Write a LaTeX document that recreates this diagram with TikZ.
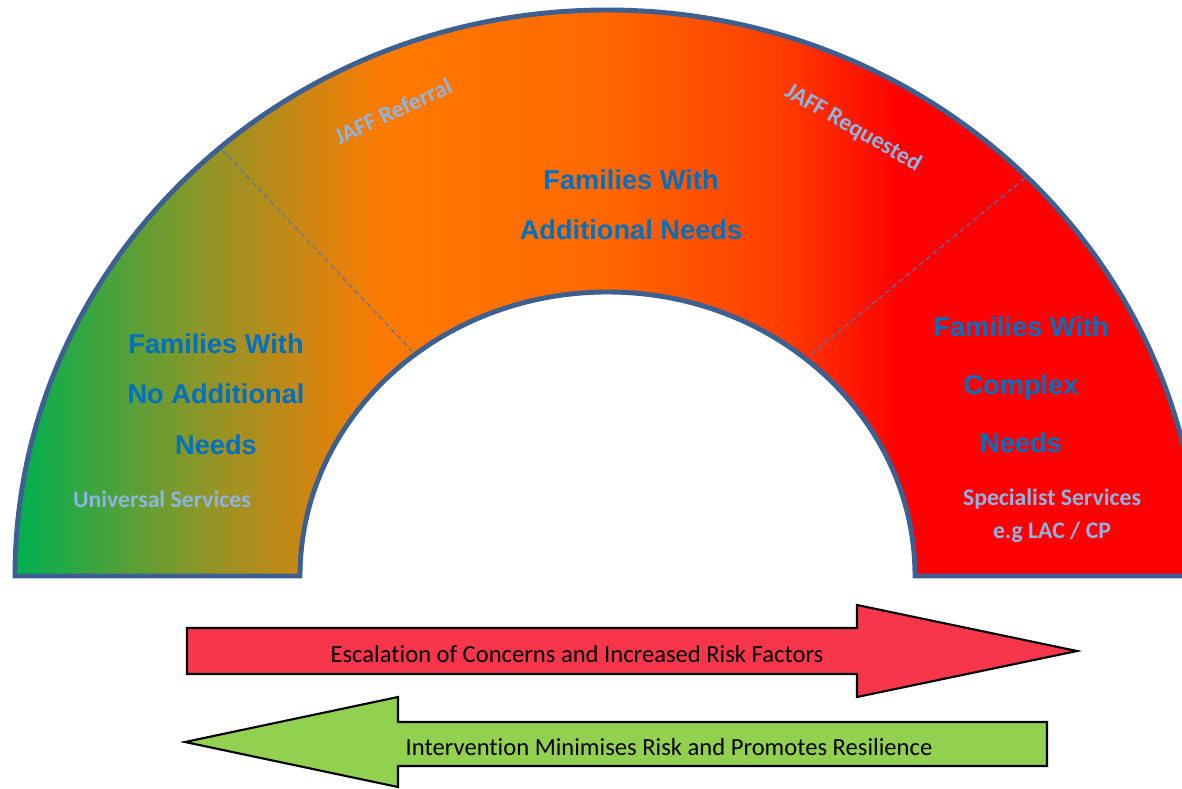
\documentclass[tikz,border=0pt]{standalone}
\usepackage{fontspec}
\setmainfont{Carlito}[Ligatures=NoCommon]
\newfontfamily\arialfont{Liberation Sans}
\definecolor{rimblue}{RGB}{60,96,145}
\definecolor{dashblue}{RGB}{70,120,190}
\definecolor{famblue}{RGB}{0,112,192}
\definecolor{paleblue}{RGB}{141,180,226}
\definecolor{riskred}{RGB}{247,54,76}
\definecolor{calmgreen}{RGB}{146,208,80}
\definecolor{gGreen}{RGB}{0,176,80}
\definecolor{gOlive}{RGB}{140,150,40}
\definecolor{gBrown}{RGB}{200,135,20}
\definecolor{gOrange}{RGB}{255,122,0}
\definecolor{gOrange2}{RGB}{255,104,0}
\definecolor{gRedOr}{RGB}{255,62,0}
\definecolor{gRed}{RGB}{255,0,0}
\pgfdeclarehorizontalshading{gauge}{100bp}{color(0bp)=(gGreen); color(25bp)=(gGreen);
  color(32.8bp)=(gOlive); color(37bp)=(gBrown); color(40.8bp)=(gOrange);
  color(49.7bp)=(gOrange2); color(57.3bp)=(gRedOr); color(62.4bp)=(gRed); color(100bp)=(gRed)}
\tikzset{
  rim/.style={draw=rimblue,line width=2.8pt,shading=gauge},
  divider/.style={draw=dashblue,line width=0.6pt,dash pattern=on 3pt off 2pt},
  fam/.style={text=famblue,align=center,font=\arialfont\bfseries\fontsize{15.5}{28.7}\selectfont},
  service/.style={text=paleblue,align=center,font=\bfseries\fontsize{13.5}{18.8}\selectfont},
  bigarrow/.style={draw=black,line width=1.2pt,line join=miter},
  arrowtext/.style={font=\fontsize{14}{16}\selectfont}
}
\begin{document}
\begin{tikzpicture}[x=0.02cm,y=0.02cm]
\useasboundingbox (0,0) rectangle (1182,788);
\shadedraw[rim](15,212)arc[start angle=180,end angle=0,x radius=592,y radius=566]--(915,212)
arc[start angle=0,end angle=180,x radius=307.5,y radius=284]--cycle;
\draw[divider](222,638)--(413,436);
\draw[divider](1025,610)--(808,431);
\node[fam](addl)at(631,583){Families With\\Additional Needs};
\node[fam](none)at(216,394){Families With\\No Additional\\Needs};
\node[fam,font=\arialfont\bfseries\fontsize{15.5}{33}\selectfont](complex)at(1021,403){Families With\\Complex\\Needs};
\node[service](universal)at(162,289){Universal Services};
\node[service](specialist)at(1052,272){Specialist Services\\e.g LAC / CP};
\node[service,rotate=25](referral)at(393,677){JAFF Referral};
\node[service,rotate=-30](requested)at(853,660){JAFF Requested};
% escalation and intervention arrows
\draw[bigarrow,fill=riskred](187,160)--(857,160)--(857,183)--(1077,137)--(857,91)--(857,114)--(187,114)--cycle;
\draw[bigarrow,fill=calmgreen](185,46)--(398,91)--(398,66)--(1047,66)--(1047,22)--(398,22)--(398,1)--cycle;
\node[arrowtext](escalate)at(577,134){Escalation of Concerns and Increased Risk Factors};
\node[arrowtext](intervene)at(669,41){Intervention Minimises Risk and Promotes Resilience};
\end{tikzpicture}
\end{document}
